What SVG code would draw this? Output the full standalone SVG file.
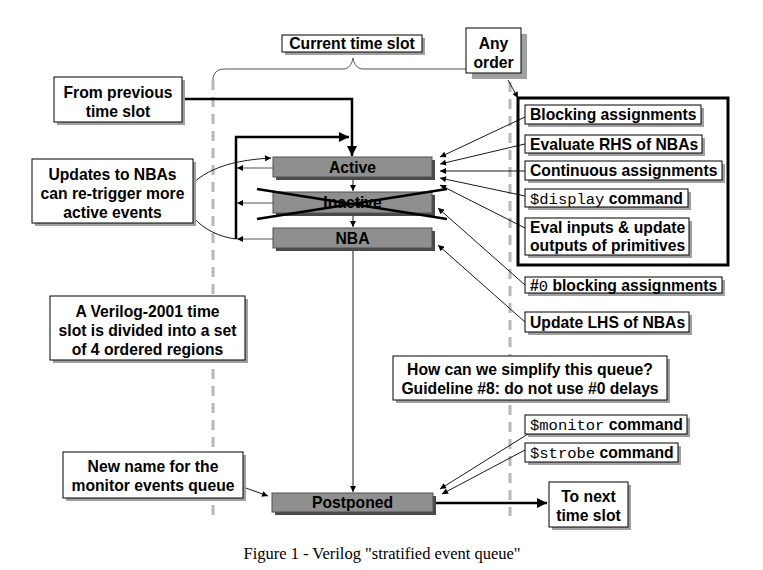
<svg xmlns="http://www.w3.org/2000/svg" width="763" height="570" viewBox="0 0 763 570">
<style>
.t{font-family:"Liberation Sans",Arial,sans-serif;font-weight:bold;font-size:15.7px;fill:#000}
.m{font-family:"Liberation Mono","Courier New",monospace;font-weight:normal;font-size:15.5px}
.box{fill:#fff;stroke:#000;stroke-width:1}
.sh{fill:#a0a0a0}
.q{fill:#8f8f8f;stroke:#505050;stroke-width:1}
.qs{fill:#4a4a4a}
.thin{fill:none;stroke:#000;stroke-width:0.9}
.gthin{fill:none;stroke:#555;stroke-width:1}
.thick{fill:none;stroke:#000;stroke-width:2.5}
.dash{fill:none;stroke:#b8b8b8;stroke-width:3;stroke-dasharray:10 7}
.cap{font-family:"Liberation Serif","Times New Roman",serif;font-size:16.5px;fill:#000}
</style>
<defs>
<marker id="a" viewBox="0 0 10 10" refX="10" refY="5" markerWidth="7" markerHeight="6" markerUnits="userSpaceOnUse" orient="auto"><path d="M0,0L10,5L0,10z" fill="#000"/></marker>
<marker id="b" viewBox="0 0 10 10" refX="10" refY="5" markerWidth="12" markerHeight="10" markerUnits="userSpaceOnUse" orient="auto"><path d="M0,0L10,5L0,10z" fill="#000"/></marker>
</defs>
<rect width="763" height="570" fill="#fff"/>

<g id="guides">
<line class="dash" x1="213" y1="80" x2="213" y2="516"/>
<line class="dash" x1="510" y1="82" x2="510" y2="516"/>
<path class="gthin" d="M213,80 C213,73 217,69 225,69 L343,69 C349,69 352,64 353,58 C354,64 357,69 363,69 L466,69"/>
</g>

<g id="connectors">
<path class="thick" d="M182,99 L352,99 L352,156" marker-end="url(#b)"/>
<path class="thick" d="M236,239 L236,137 L349,137" marker-end="url(#b)"/>
<line class="gthin" x1="273" y1="168" x2="237" y2="168" marker-end="url(#a)"/>
<line class="gthin" x1="273" y1="203" x2="237" y2="203" marker-end="url(#a)"/>
<line class="gthin" x1="273" y1="239" x2="237" y2="239" marker-end="url(#a)"/>
<path class="thin" d="M193,183 C212,166 238,160 271,158" marker-end="url(#a)"/>
<path class="thin" d="M193,217 C204,230 220,237 236,239"/>
<line class="thin" x1="353" y1="177" x2="353" y2="191" marker-end="url(#a)"/>
<line class="thin" x1="353" y1="213" x2="353" y2="227" marker-end="url(#a)"/>
<line class="thin" x1="353" y1="248" x2="353" y2="492" marker-end="url(#a)"/>
<line class="thin" x1="508" y1="80" x2="518" y2="98" marker-end="url(#a)"/>
<line class="thin" x1="525" y1="117" x2="440" y2="157" marker-end="url(#a)"/>
<line class="thin" x1="525" y1="144" x2="440" y2="164" marker-end="url(#a)"/>
<line class="thin" x1="525" y1="171" x2="440" y2="171" marker-end="url(#a)"/>
<line class="thin" x1="525" y1="196" x2="440" y2="178" marker-end="url(#a)"/>
<line class="thin" x1="525" y1="228" x2="440" y2="185" marker-end="url(#a)"/>
<line class="thin" x1="525" y1="285" x2="438" y2="208" marker-end="url(#a)"/>
<line class="thin" x1="525" y1="322" x2="438" y2="245" marker-end="url(#a)"/>
<line class="thin" x1="528" y1="434" x2="440" y2="489" marker-end="url(#a)"/>
<line class="thin" x1="525" y1="450" x2="442" y2="494" marker-end="url(#a)"/>
<line class="thin" x1="243" y1="487" x2="268" y2="496" marker-end="url(#a)"/>
<line class="thick" x1="433" y1="503" x2="547" y2="503" marker-end="url(#b)"/>
</g>

<g id="active">
<rect class="qs" x="276" y="160" width="159" height="20"/>
<rect class="q" x="273" y="157" width="159" height="20"/>
<text class="t" x="352.5" y="172.5" text-anchor="middle">Active</text>
</g>
<g id="inactive">
<rect class="qs" x="276" y="195" width="159" height="21"/>
<rect class="q" x="273" y="192" width="159" height="21"/>
<text class="t" x="352.5" y="208" text-anchor="middle">Inactive</text>
<line stroke="#000" stroke-width="2.5" x1="257" y1="189" x2="447" y2="219"/>
<line stroke="#000" stroke-width="2.5" x1="257" y1="219" x2="447" y2="189"/>
</g>
<g id="nba">
<rect class="qs" x="276" y="231" width="159" height="20"/>
<rect class="q" x="273" y="228" width="159" height="20"/>
<text class="t" x="352.5" y="243.5" text-anchor="middle">NBA</text>
</g>
<g id="postponed">
<rect class="qs" x="275" y="496" width="161" height="19"/>
<rect class="q" x="272" y="493" width="161" height="19"/>
<text class="t" x="352.5" y="508" text-anchor="middle">Postponed</text>
</g>

<g id="current-time-slot">
<rect class="sh" x="285" y="38" width="140" height="17"/>
<rect class="box" x="282" y="35" width="140" height="17"/>
<text class="t" x="352" y="49" text-anchor="middle">Current time slot</text>
</g>
<g id="any-order">
<rect class="sh" x="472" y="34" width="55" height="45"/>
<rect class="box" x="466" y="28" width="55" height="45"/>
<text class="t" x="493.5" y="49" text-anchor="middle">Any</text>
<text class="t" x="493.5" y="67.5" text-anchor="middle">order</text>
</g>
<g id="from-previous">
<rect class="sh" x="57" y="80" width="128" height="45"/>
<rect class="box" x="54" y="77" width="128" height="45"/>
<text class="t" x="118" y="97.5" text-anchor="middle">From previous</text>
<text class="t" x="118" y="116.5" text-anchor="middle">time slot</text>
</g>
<g id="updates-nbas">
<rect class="sh" x="35" y="162" width="161" height="64"/>
<rect class="box" x="32" y="159" width="161" height="64"/>
<text class="t" x="112.5" y="179.5" text-anchor="middle">Updates to NBAs</text>
<text class="t" x="112.5" y="198.5" text-anchor="middle">can re-trigger more</text>
<text class="t" x="112.5" y="218" text-anchor="middle">active events</text>
</g>
<g id="verilog-2001">
<rect class="sh" x="53" y="299" width="195" height="64"/>
<rect class="box" x="50" y="296" width="195" height="64"/>
<text class="t" x="147.5" y="316.5" text-anchor="middle">A Verilog-2001 time</text>
<text class="t" x="147.5" y="335.5" text-anchor="middle">slot is divided into a set</text>
<text class="t" x="147.5" y="354.5" text-anchor="middle">of 4 ordered regions</text>
</g>
<g id="new-name">
<rect class="sh" x="66" y="455" width="180" height="46"/>
<rect class="box" x="63" y="452" width="180" height="46"/>
<text class="t" x="153" y="471.5" text-anchor="middle">New name for the</text>
<text class="t" x="153" y="490.5" text-anchor="middle">monitor events queue</text>
</g>
<g id="simplify">
<rect class="sh" x="396" y="359" width="274" height="44"/>
<rect class="box" x="393" y="356" width="274" height="44"/>
<text class="t" x="530" y="374.5" text-anchor="middle">How can we simplify this queue?</text>
<text class="t" x="530" y="393.5" text-anchor="middle">Guideline #8: do not use #0 delays</text>
</g>
<g id="next-slot">
<rect class="sh" x="552" y="485" width="79" height="45"/>
<rect class="box" x="549" y="482" width="79" height="45"/>
<text class="t" x="588.5" y="501.5" text-anchor="middle">To next</text>
<text class="t" x="588.5" y="520.5" text-anchor="middle">time slot</text>
</g>

<g id="active-group">
<rect x="518" y="98" width="210" height="167" fill="none" stroke="#000" stroke-width="3"/>
</g>
<g id="blocking">
<rect class="sh" x="528" y="108" width="176" height="19"/>
<rect class="box" x="525" y="105" width="176" height="19"/>
<text class="t" x="530" y="120">Blocking assignments</text>
</g>
<g id="eval-rhs">
<rect class="sh" x="528" y="138" width="177" height="18"/>
<rect class="box" x="525" y="135" width="177" height="18"/>
<text class="t" x="530" y="149.5">Evaluate RHS of NBAs</text>
</g>
<g id="continuous">
<rect class="sh" x="528" y="164" width="197" height="19"/>
<rect class="box" x="525" y="161" width="197" height="19"/>
<text class="t" x="530" y="176">Continuous assignments</text>
</g>
<g id="display">
<rect class="sh" x="528" y="192" width="163" height="18"/>
<rect class="box" x="525" y="189" width="163" height="18"/>
<text class="t" x="530" y="203.5"><tspan class="m">$display</tspan> command</text>
</g>
<g id="eval-inputs">
<rect class="sh" x="528" y="221" width="164" height="37"/>
<rect class="box" x="525" y="218" width="164" height="37"/>
<text class="t" x="530" y="232.5">Eval inputs &amp; update</text>
<text class="t" x="530" y="250.5">outputs of primitives</text>
</g>
<g id="zero-blocking">
<rect class="sh" x="528" y="280" width="197" height="16"/>
<rect class="box" x="525" y="277" width="197" height="16"/>
<text class="t" x="530" y="290.5">#<tspan class="m">0</tspan> blocking assignments</text>
</g>
<g id="update-lhs">
<rect class="sh" x="528" y="315" width="164" height="20"/>
<rect class="box" x="525" y="312" width="164" height="20"/>
<text class="t" x="530" y="327.5">Update LHS of NBAs</text>
</g>
<g id="monitor">
<rect class="sh" x="528" y="418" width="162" height="19"/>
<rect class="box" x="525" y="415" width="162" height="19"/>
<text class="t" x="530" y="430"><tspan class="m">$monitor</tspan> command</text>
</g>
<g id="strobe">
<rect class="sh" x="528" y="446" width="153" height="19"/>
<rect class="box" x="525" y="443" width="153" height="19"/>
<text class="t" x="530" y="458"><tspan class="m">$strobe</tspan> command</text>
</g>

<text class="cap" x="382" y="559" text-anchor="middle">Figure 1 - Verilog "stratified event queue"</text>
</svg>
